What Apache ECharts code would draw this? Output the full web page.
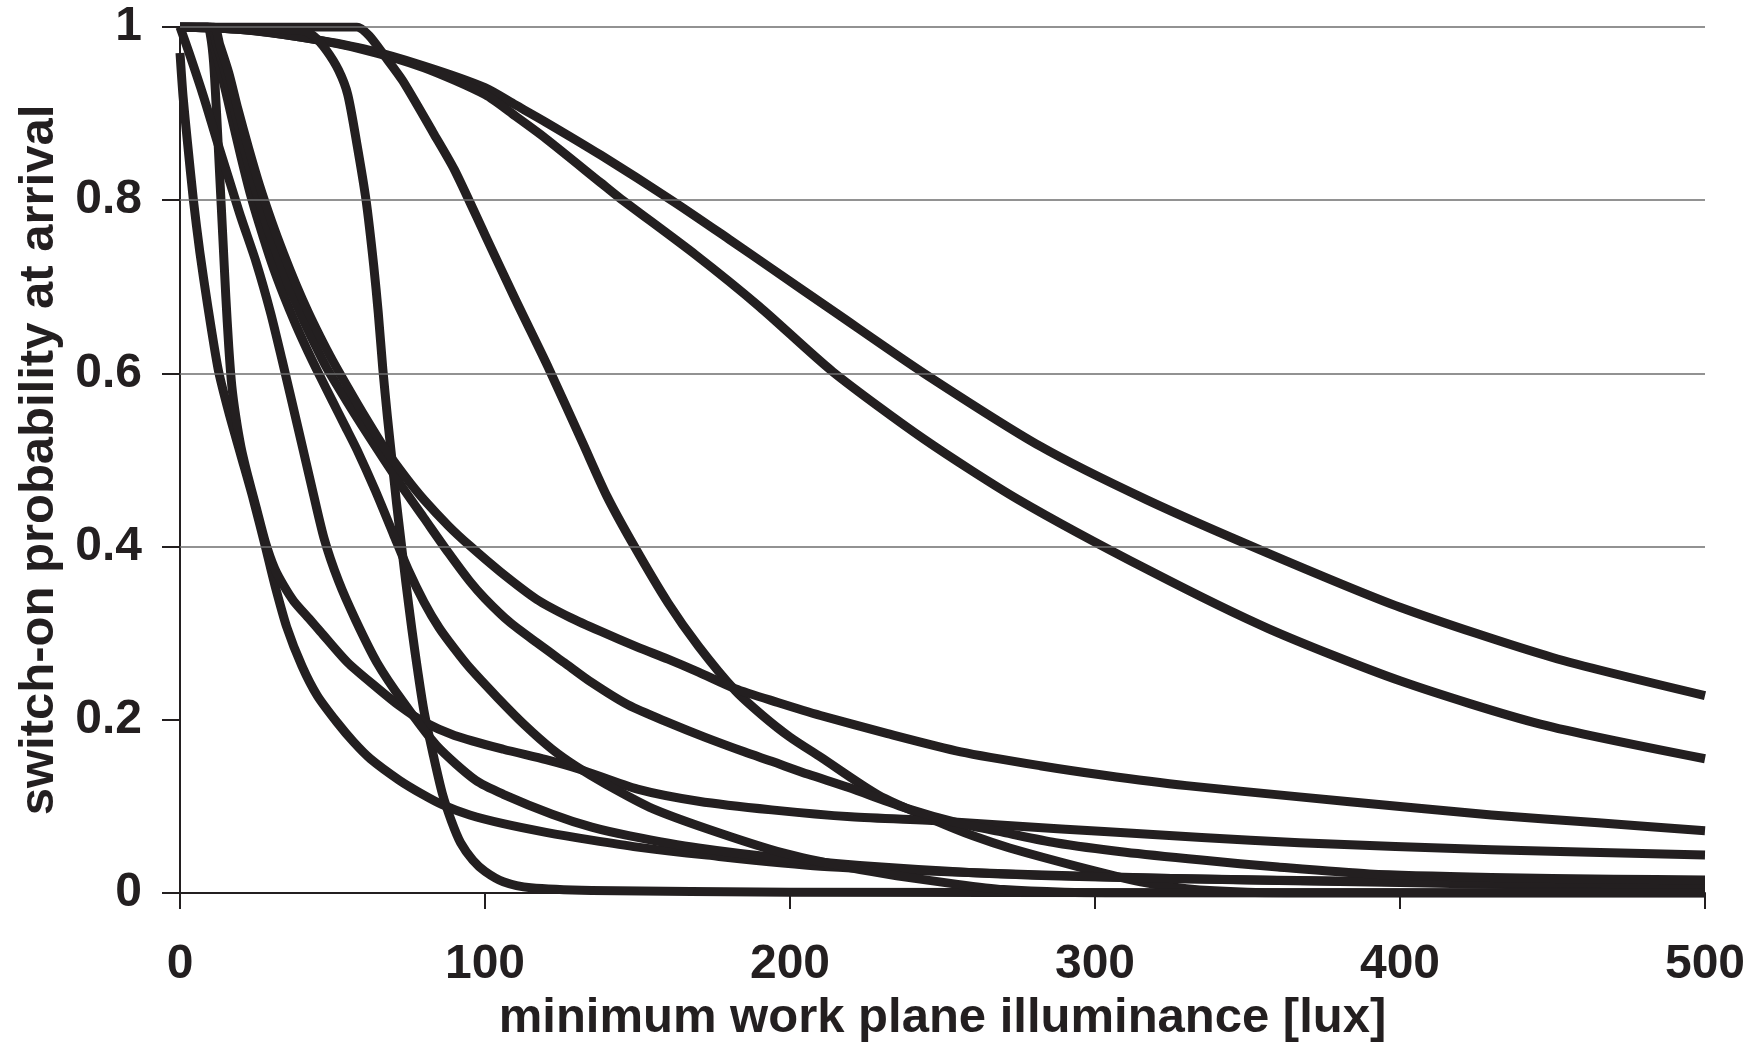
<!DOCTYPE html>
<html>
<head>
<meta charset="utf-8">
<script src="https://cdn.jsdelivr.net/npm/echarts@6/dist/echarts.min.js"></script>
<style>
html,body{margin:0;padding:0;background:#ffffff;}
#chart{width:1764px;height:1049px;}
</style>
</head>
<body>
<div id="chart"></div>
<script>
// ---- tick / grid values ----
const xTicks = [0, 100, 200, 300, 400, 500];
const yTicks = [0, 0.2, 0.4, 0.6, 0.8, 1];
const gridLevels = [0.4, 0.6, 0.8, 1];

// ---- curves: [illuminance (lux), switch-on probability] ----
const curveA = [[0,1],[20,0.997],[40,0.988],[60,0.975],[80,0.955],[100,0.93],[110,0.91],[120,0.89],[138,0.852],[162,0.798],[180,0.755],[194,0.721],[215,0.67],[244,0.6],[282,0.516],[317,0.454],[357,0.392],[400,0.33],[450,0.272],[500,0.228]];
const curveB = [[0,1],[20,0.997],[40,0.988],[60,0.974],[80,0.953],[100,0.922],[110,0.897],[120,0.871],[138,0.82],[144,0.803],[169,0.737],[190,0.677],[214,0.602],[244,0.524],[275,0.454],[318,0.372],[357,0.305],[400,0.245],[446,0.195],[500,0.155]];
const curveC = [[0,1],[40,1],[58,1],[62,0.99],[67,0.967],[73,0.938],[83,0.878],[90,0.835],[100,0.76],[110,0.685],[121,0.605],[132,0.52],[140,0.458],[149,0.4],[160,0.335],[170,0.285],[182,0.234],[191,0.205],[200,0.18],[210,0.157],[229,0.113],[248,0.083],[260,0.066],[272,0.052],[295,0.03],[315,0.013],[330,0.005],[350,0.001],[380,0],[500,0]];
const curveD = [[0,1],[40,0.996],[44,0.989],[48,0.973],[52,0.95],[55,0.922],[58,0.865],[61,0.8],[63.5,0.725],[65,0.67],[66.5,0.605],[68,0.55],[69.5,0.5],[71,0.45],[72.5,0.405],[74,0.36],[76,0.305],[78,0.255],[80,0.21],[83,0.16],[86,0.115],[89,0.083],[92,0.058],[96,0.038],[100,0.025],[106,0.013],[115,0.006],[135,0.003],[200,0.001],[500,0]];
const curveE = [[0,0.97],[1,0.92],[2.5,0.865],[4.4,0.8],[6.5,0.74],[9,0.68],[12.5,0.605],[16,0.555],[20,0.505],[24,0.455],[28,0.4],[31,0.357],[35,0.307],[40,0.262],[45,0.228],[51.5,0.197],[57,0.174],[62.4,0.155],[72,0.13],[80,0.113],[86,0.102],[95,0.09],[106,0.08],[120,0.07],[135,0.061],[150,0.053],[172,0.044],[210,0.031],[256,0.024],[300,0.019],[350,0.015],[400,0.012],[450,0.009],[500,0.007]];
const curveF = [[0,1],[9,1],[10,0.99],[11,0.96],[12,0.9],[13,0.83],[14,0.76],[15,0.69],[16,0.63],[17,0.585],[18.3,0.55],[20,0.515],[22,0.485],[25,0.445],[28,0.405],[31,0.375],[34,0.355],[37.3,0.337],[42.8,0.315],[46,0.302],[55,0.266],[64.6,0.237],[72,0.216],[79.7,0.198],[90,0.182],[106,0.166],[120,0.154],[131,0.143],[150,0.12],[170,0.106],[194,0.096],[220,0.088],[250,0.083],[275,0.077],[303,0.071],[335,0.064],[367,0.058],[430,0.05],[500,0.044]];
const curveG = [[0,1],[3,0.97],[7.7,0.92],[12,0.87],[16,0.825],[20,0.78],[25,0.728],[29.7,0.67],[33.5,0.615],[38.5,0.54],[42.8,0.475],[47.2,0.41],[52,0.36],[57.6,0.315],[64.6,0.266],[73.3,0.22],[84.2,0.17],[97,0.13],[106,0.114],[122,0.091],[135,0.076],[147.5,0.066],[170,0.052],[198,0.04],[230,0.03],[269,0.022],[320,0.017],[400,0.013],[500,0.01]];
const curveH = [[0,1],[9,1],[11,0.98],[14,0.94],[17,0.895],[20,0.85],[23,0.808],[26,0.772],[30,0.728],[34,0.69],[38,0.656],[42,0.625],[46,0.596],[50,0.568],[54,0.54],[58,0.512],[64,0.465],[70,0.414],[75,0.372],[80,0.336],[85,0.306],[90,0.282],[95,0.26],[104,0.226],[113,0.194],[122,0.166],[130,0.146],[139,0.127],[154,0.099],[173,0.074],[198,0.046],[220,0.029],[235,0.02],[255,0.01],[270,0.004],[290,0.001],[320,0],[500,0]];
const curveI = [[0,1],[10,1],[12,0.98],[15,0.945],[18,0.902],[21,0.86],[24.5,0.815],[28,0.775],[32,0.735],[36,0.698],[40,0.665],[44,0.635],[48,0.607],[55,0.566],[62,0.527],[67,0.5],[74,0.463],[80,0.433],[88,0.393],[95,0.36],[100,0.34],[108,0.313],[117,0.289],[126,0.266],[135,0.243],[147,0.217],[160,0.197],[172,0.18],[185,0.163],[194,0.152],[206,0.137],[219,0.122],[239,0.097],[256,0.08],[270,0.07],[287,0.058],[310,0.047],[335,0.038],[360,0.03],[390,0.022],[430,0.018],[470,0.016],[500,0.015]];
const curveJ = [[0,1],[11,1],[13,0.98],[16,0.947],[19,0.905],[22.5,0.86],[26,0.818],[30,0.776],[34,0.738],[38,0.703],[42,0.671],[46,0.642],[50,0.615],[55,0.584],[61,0.548],[67,0.514],[74,0.48],[80,0.454],[88,0.424],[95,0.401],[105,0.371],[117,0.339],[128,0.318],[138,0.302],[150,0.284],[160,0.27],[170,0.255],[182,0.236],[196,0.22],[210,0.205],[232,0.184],[256,0.163],[282,0.147],[303,0.136],[330,0.124],[367,0.111],[400,0.1],[430,0.09],[465,0.081],[500,0.072]];

const curves = [curveA, curveB, curveC, curveD, curveE, curveF, curveG, curveH, curveI, curveJ];

// ---- styles ----
const ink = '#231f20';
const gridGray = '#6e6e6e';
const fontFamily = "'Liberation Sans', Arial, Helvetica, sans-serif";

const chart = echarts.init(document.getElementById('chart'), null, {renderer: 'canvas'});

const series = [{
  type: 'line',
  data: [],
  silent: true,
  z: 1,
  markLine: {
    silent: true,
    symbol: 'none',
    animation: false,
    label: {show: false},
    lineStyle: {color: gridGray, width: 1.5, type: 'solid'},
    emphasis: {disabled: true},
    data: gridLevels.map(v => ({yAxis: v}))
  }
}].concat(curves.map(c => ({
  type: 'line',
  data: c,
  smooth: 0.25,
  symbol: 'none',
  silent: true,
  z: 3,
  lineStyle: {color: ink, width: 9, cap: 'butt', join: 'round'}
})));

chart.setOption({
  animation: false,
  backgroundColor: '#ffffff',
  grid: {left: 180, right: 59, top: 27, bottom: 156, containLabel: false},
  xAxis: {
    type: 'value',
    min: xTicks[0],
    max: xTicks[xTicks.length - 1],
    interval: xTicks[1] - xTicks[0],
    name: 'minimum work plane illuminance [lux]',
    nameLocation: 'middle',
    nameGap: 98,
    nameTextStyle: {fontFamily: fontFamily, fontWeight: 'bold', fontSize: 49, color: ink},
    axisLine: {show: true, onZero: false, lineStyle: {color: ink, width: 2}},
    axisTick: {show: true, inside: false, length: 16, lineStyle: {color: ink, width: 2}},
    axisLabel: {fontFamily: fontFamily, fontWeight: 'bold', fontSize: 48, color: ink, margin: 48},
    splitLine: {show: false}
  },
  yAxis: {
    type: 'value',
    min: yTicks[0],
    max: yTicks[yTicks.length - 1],
    interval: yTicks[1] - yTicks[0],
    name: 'switch-on probability at arrival',
    nameLocation: 'middle',
    nameGap: 115,
    nameTextStyle: {fontFamily: fontFamily, fontWeight: 'bold', fontSize: 49, color: ink},
    axisLine: {show: true, onZero: false, lineStyle: {color: ink, width: 2}},
    axisTick: {show: true, inside: false, length: 18, lineStyle: {color: ink, width: 2}},
    axisLabel: {fontFamily: fontFamily, fontWeight: 'bold', fontSize: 48, color: ink, margin: 38},
    splitLine: {show: false}
  },
  series: series
});
</script>
</body>
</html>
